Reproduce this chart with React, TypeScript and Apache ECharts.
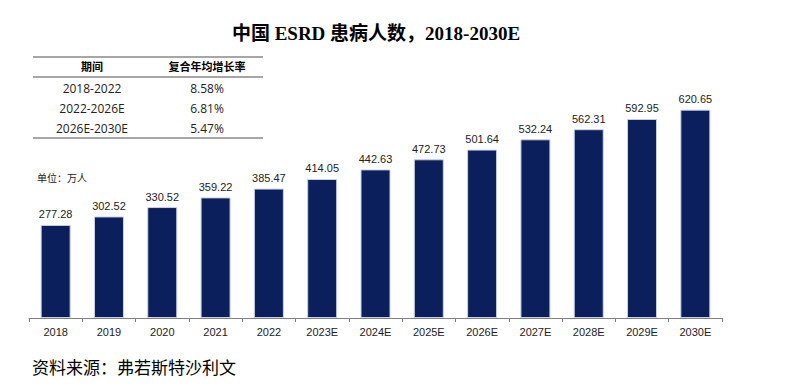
import React, { useEffect, useRef } from "react";
import * as echarts from "echarts";

const categories = ["2018", "2019", "2020", "2021", "2022", "2023E", "2024E", "2025E", "2026E", "2027E", "2028E", "2029E", "2030E"];
const values = [277.28, 302.52, 330.52, 359.22, 385.47, 414.05, 442.63, 472.73, 501.64, 532.24, 562.31, 592.95, 620.65];
const tableHeader = ["期间", "复合年均增长率"];
const tablePeriods = ["2018-2022", "2022-2026E", "2026E-2030E"];
const tableRates = ["8.58%", "6.81%", "5.47%"];

export default function App() {
  const ref = useRef<HTMLDivElement>(null);
  useEffect(() => {
    if (!ref.current) return;
    const chart = echarts.init(ref.current, null, { renderer: "svg" });
    const col1 = 92;
    const col2 = 207;
    const tableTexts: any[] = [];
    tableTexts.push({ type: "text", x: col1, y: 66, style: { text: tableHeader[0], font: "bold 11px 'Noto Sans CJK SC'", fill: "#000", align: "center", verticalAlign: "middle" } });
    tableTexts.push({ type: "text", x: col2, y: 66, style: { text: tableHeader[1], font: "bold 11px 'Noto Sans CJK SC'", fill: "#000", align: "center", verticalAlign: "middle" } });
    tablePeriods.forEach((p, i) => {
      const y = 88 + i * 20;
      tableTexts.push({ type: "text", x: col1, y, style: { text: p, font: "12px 'Open Sans', 'Noto Sans'", fill: "#222", align: "center", verticalAlign: "middle" } });
      tableTexts.push({ type: "text", x: col2, y, style: { text: tableRates[i], font: "12px 'Open Sans', 'Noto Sans'", fill: "#222", align: "center", verticalAlign: "middle" } });
    });
    chart.setOption({
      animation: false,
      grid: { left: 29, right: 68, top: 83, bottom: 73 },
      xAxis: {
        type: "category",
        data: categories,
        axisLine: { lineStyle: { color: "#808080", width: 1 } },
        axisTick: { show: true, alignWithLabel: false, length: 4, lineStyle: { color: "#808080" } },
        axisLabel: { color: "#222", fontSize: 11, fontFamily: "'Liberation Sans', Arial", margin: 8 },
      },
      yAxis: { type: "value", min: 0, max: 700, show: false, splitLine: { show: false } },
      series: [
        {
          type: "bar",
          data: values,
          barWidth: 30,
          itemStyle: { color: "#0b1f5c", borderColor: "#c9d1e3", borderWidth: 1 },
          label: { show: true, position: "top", distance: 5, color: "#222", fontSize: 11, fontFamily: "'Liberation Sans', Arial", formatter: (p: any) => p.value.toFixed(2) },
        },
      ],
      graphic: [
        { type: "text", x: 376, y: 33, style: { text: "中国 ESRD 患病人数，2018-2030E", font: "bold 19px 'Liberation Serif', 'Noto Sans CJK SC'", fill: "#000", align: "center", verticalAlign: "middle" } },
        { type: "line", shape: { x1: 33, y1: 57, x2: 263, y2: 57 }, style: { stroke: "#888", lineWidth: 1.5 } },
        { type: "line", shape: { x1: 33, y1: 77, x2: 263, y2: 77 }, style: { stroke: "#888", lineWidth: 1.5 } },
        { type: "line", shape: { x1: 33, y1: 138, x2: 263, y2: 138 }, style: { stroke: "#888", lineWidth: 1.5 } },
        ...tableTexts,
        { type: "text", x: 37, y: 177, style: { text: "单位：万人", font: "10px 'Noto Sans CJK SC'", fill: "#222", align: "left", verticalAlign: "middle" } },
        { type: "text", x: 32, y: 366, style: { text: "资料来源：弗若斯特沙利文", font: "17px 'Noto Sans CJK SC'", fill: "#000", align: "left", verticalAlign: "middle" } },
      ],
    });
    return () => chart.dispose();
  }, []);
  return <div ref={ref} style={{ width: 790, height: 391, position: "absolute", left: 0, top: 0 }} />;
}
